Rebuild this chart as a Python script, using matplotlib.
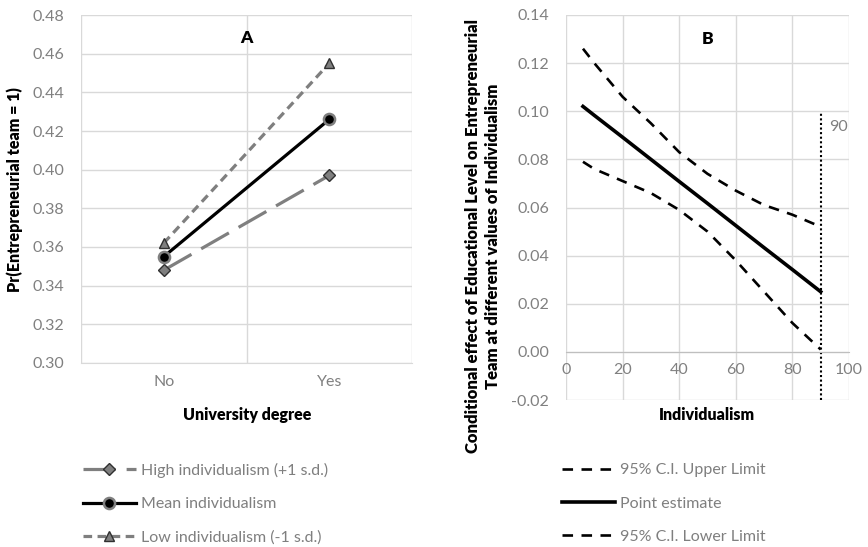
import matplotlib
matplotlib.use('Agg')
import matplotlib.pyplot as plt

plt.rcParams['font.family'] = ['Lato', 'DejaVu Sans']

# panel A data
degree = ['No', 'Yes']
high_ind = [0.348, 0.397]
mean_ind = [0.355, 0.426]
low_ind = [0.362, 0.455]

# panel B data
indiv = [6, 10, 20, 30, 40, 50, 60, 70, 80, 90]
ci_upper = [0.126, 0.120, 0.106, 0.095, 0.083, 0.074, 0.067, 0.061, 0.057, 0.052]
point_est = [0.1020, 0.0983, 0.0892, 0.0800, 0.0708, 0.0617, 0.0525, 0.0433, 0.0342, 0.0250]
ci_lower = [0.079, 0.076, 0.071, 0.066, 0.059, 0.050, 0.038, 0.025, 0.012, 0.001]
cut_x = 90

W, H = 868, 547
GRID = '#d9d9d9'
TICK = '#808080'
GREY = '#7f7f7f'
BOLD = 'heavy'

fig = plt.figure(figsize=(W/100, H/100), dpi=100)
axA = fig.add_axes([81/W, 1-363/H, (412-81)/W, (363-15)/H])
axB = fig.add_axes([566/W, 1-400/H, (849-566)/W, (400-15)/H])

# ---- A
xs = range(len(degree))
axA.plot(xs, high_ind, color=GREY, lw=2.3, ls=(0, (10, 3.5)), marker='D', ms=6,
         mfc=GREY, mec='#303030', mew=1, label='High individualism (+1 s.d.)', zorder=3)
axA.plot(xs, mean_ind, color='black', lw=2.3, marker='o', ms=8,
         mfc='black', mec=GREY, mew=1.8, label='Mean individualism', zorder=4)
axA.plot(xs, low_ind, color=GREY, lw=2.3, ls=(0, (2.7, 1.7)), marker='^', ms=7,
         mfc=GREY, mec='#303030', mew=1, label='Low individualism (-1 s.d.)', zorder=3)
axA.set_xlim(-0.5, 1.5)
axA.set_ylim(0.30, 0.48)
axA.set_yticks([0.30 + 0.02*i for i in range(10)])
axA.set_yticklabels([f'{0.30 + 0.02*i:.2f}' for i in range(10)])
axA.set_xticks([0, 1])
axA.set_xticklabels(degree)
axA.set_xticks([-0.5, 0.5, 1.5], minor=True)
axA.grid(True, which='major', axis='y', color=GRID, lw=1)
axA.grid(True, which='minor', axis='x', color=GRID, lw=1)
axA.tick_params(which='both', length=0, colors=TICK, labelsize=11.5)
axA.tick_params(axis='y', pad=12)
axA.tick_params(axis='x', pad=9)
for s in axA.spines.values():
    s.set_visible(False)
axA.spines['bottom'].set_visible(True)
axA.spines['bottom'].set_color(GRID)
axA.text(0.5, 0.468, 'A', ha='center', va='center', fontsize=12.5, fontweight=BOLD)

# ---- B
axB.plot(indiv, ci_upper, color='black', lw=1.9, ls=(0, (4, 3.2)), label='95% C.I. Upper Limit')
axB.plot(indiv, point_est, color='black', lw=2.6, label='Point estimate')
axB.plot(indiv, ci_lower, color='black', lw=1.9, ls=(0, (4, 3.2)), label='95% C.I. Lower Limit')
axB.plot([cut_x, cut_x], [-0.02, 0.0995], color='black', lw=1.5, ls=(0, (1, 1.2)))
axB.text(cut_x + 3, 0.0935, '90', color=GREY, fontsize=11.5, ha='left', va='center')
axB.set_xlim(0, 100)
axB.set_ylim(-0.02, 0.14)
axB.set_xticks(range(0, 101, 20))
axB.set_yticks([-0.02 + 0.02*i for i in range(9)])
axB.set_yticklabels([f'{-0.02 + 0.02*i:.2f}' for i in range(9)])
axB.grid(True, color=GRID, lw=1)
axB.tick_params(length=0, colors=TICK, labelsize=11.5)
axB.tick_params(axis='y', pad=12)
axB.tick_params(axis='x', pad=8)
for s in axB.spines.values():
    s.set_visible(False)
axB.spines['bottom'].set_visible(True)
axB.spines['bottom'].set_position(('data', 0))
axB.spines['bottom'].set_color('#bfbfbf')
axB.set_axisbelow(True)
axB.text(50, 0.130, 'B', ha='center', va='center', fontsize=12.5, fontweight=BOLD)

# axis titles
fig.text(247/W, 1-415/H, 'University degree', ha='center', va='center', fontsize=11.5, fontweight=BOLD)
fig.text(707/W, 1-415/H, 'Individualism', ha='center', va='center', fontsize=11.5, fontweight=BOLD)
fig.text(15/W, 1-190/H, 'Pr(Entrepreneurial team = 1)', rotation=90, ha='center', va='center',
         fontsize=11.5, fontweight=BOLD)
fig.text(483/W, 1-236/H, 'Conditional effect of Educational Level on Entrepreneurial\n'
         'Team at different values of Individualism', rotation=90, ha='center', va='center',
         fontsize=12, fontweight=BOLD, linespacing=1.25)

# legends
for ax, x0 in ((axA, 83), (axB, 562)):
    h, l = ax.get_legend_handles_labels()
    leg = fig.legend(h, l, loc='upper left', bbox_to_anchor=(x0/W, 1-463/H), frameon=False,
                     borderpad=0, borderaxespad=0, handlelength=3.3, handletextpad=0.35,
                     labelspacing=1.2, fontsize=11.5)
    for t in leg.get_texts():
        t.set_color(GREY)

fig.savefig('out.png', dpi=100)
